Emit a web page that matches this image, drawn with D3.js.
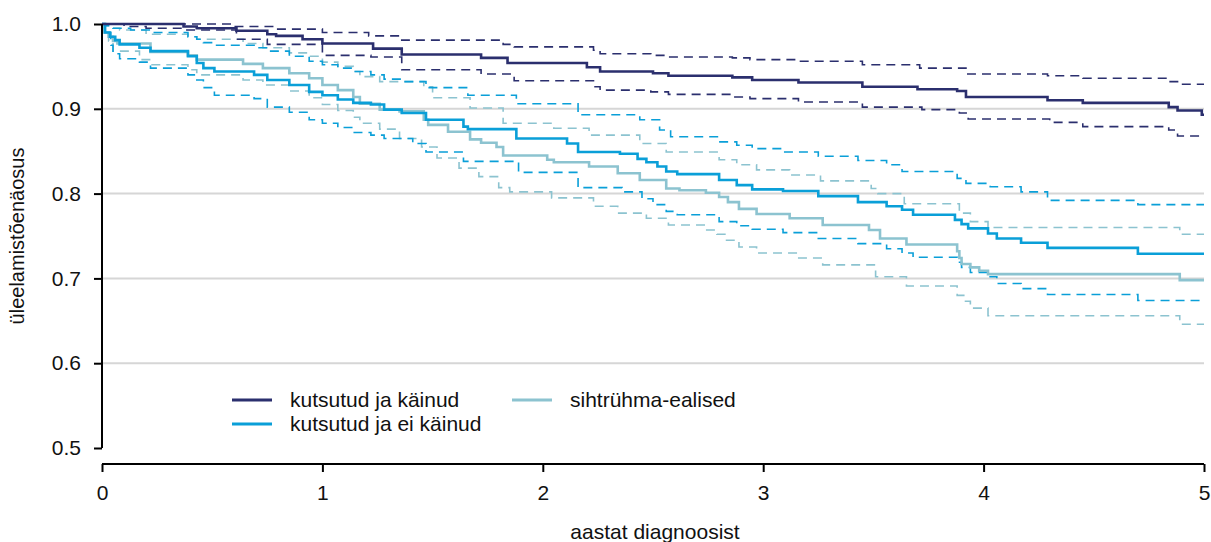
<!DOCTYPE html>
<html>
<head>
<meta charset="utf-8">
<script src="https://cdn.jsdelivr.net/npm/d3@7"></script>
<style>
  body { margin: 0; background: #fff; }
  svg text { font-family: "Liberation Sans", Arial, sans-serif; fill: #111; }
</style>
</head>
<body>
<svg id="chart" width="1211" height="542"></svg>
<script>
// kutsutud ja käinud
const kaiTime  = [0,0.37,0.43,0.61,0.75,0.79,0.91,1.00,1.23,1.36,1.72,1.84,2.20,2.26,2.50,2.57,2.86,2.95,3.16,3.45,3.70,3.88,3.92,4.29,4.45,4.84,4.88,4.99];
const kaiSurv  = [1,0.997,0.995,0.992,0.988,0.986,0.982,0.977,0.971,0.964,0.960,0.954,0.949,0.944,0.942,0.939,0.937,0.934,0.931,0.926,0.923,0.921,0.914,0.910,0.907,0.902,0.898,0.893];
const kaiUpTime = [0,0.59,0.79,1.00,1.21,1.36,1.82,1.87,2.23,2.26,2.49,2.57,2.86,2.94,3.16,3.45,3.71,3.92,4.29,4.45,4.84,4.88];
const kaiUp     = [1,0.997,0.994,0.990,0.986,0.981,0.976,0.973,0.969,0.965,0.963,0.961,0.960,0.958,0.956,0.952,0.948,0.941,0.939,0.936,0.932,0.929];
const kaiLoTime = [0,0.10,0.20,0.37,0.61,0.75,1.00,1.22,1.36,1.72,1.87,2.23,2.26,2.49,2.57,2.86,2.94,3.16,3.45,3.72,3.89,3.93,4.30,4.45,4.84,4.88];
const kaiLo     = [1,0.997,0.995,0.993,0.982,0.976,0.963,0.961,0.946,0.941,0.933,0.926,0.922,0.920,0.917,0.914,0.912,0.908,0.902,0.899,0.895,0.888,0.884,0.879,0.875,0.868];

// kutsutud ja ei käinud
const eiTime = [0,0.014,0.036,0.06,0.08,0.17,0.22,0.39,0.43,0.46,0.51,0.69,0.75,0.85,0.94,1.00,1.07,1.14,1.22,1.28,1.36,1.47,1.64,1.66,1.88,2.11,2.16,2.35,2.43,2.47,2.52,2.56,2.61,2.80,2.88,2.95,3.09,3.25,3.43,3.56,3.63,3.68,3.87,3.90,3.93,4.02,4.06,4.17,4.29,4.70];
const eiSurv = [1,0.99,0.985,0.981,0.976,0.972,0.968,0.962,0.954,0.948,0.944,0.940,0.934,0.928,0.920,0.916,0.911,0.907,0.905,0.899,0.895,0.887,0.879,0.876,0.865,0.859,0.849,0.847,0.841,0.837,0.832,0.826,0.823,0.816,0.810,0.805,0.803,0.797,0.790,0.785,0.781,0.775,0.769,0.764,0.759,0.753,0.747,0.742,0.736,0.729];
const eiUpTime = [0,0.02,0.05,0.13,0.22,0.39,0.43,0.46,0.51,0.69,0.75,0.85,0.94,1.00,1.07,1.14,1.22,1.28,1.36,1.47,1.66,1.88,2.16,2.44,2.53,2.58,2.80,2.88,2.95,3.09,3.25,3.43,3.56,3.63,3.88,3.92,4.03,4.17,4.29,4.70];
const eiUp     = [1,0.998,0.995,0.993,0.990,0.985,0.982,0.978,0.975,0.972,0.968,0.962,0.956,0.952,0.948,0.944,0.940,0.935,0.932,0.925,0.916,0.906,0.893,0.887,0.875,0.867,0.861,0.857,0.853,0.849,0.844,0.839,0.834,0.826,0.818,0.812,0.808,0.802,0.792,0.787];
const eiLoTime = [0,0.01,0.04,0.05,0.08,0.17,0.22,0.39,0.43,0.46,0.51,0.69,0.75,0.85,0.94,1.00,1.07,1.14,1.22,1.28,1.41,1.47,1.64,1.89,2.16,2.36,2.45,2.50,2.56,2.61,2.80,2.88,2.95,3.09,3.25,3.43,3.56,3.63,3.68,3.88,3.90,3.94,4.02,4.06,4.17,4.29,4.70];
const eiLo     = [1,0.99,0.975,0.965,0.959,0.955,0.948,0.940,0.934,0.925,0.916,0.912,0.902,0.896,0.887,0.883,0.878,0.872,0.869,0.865,0.859,0.849,0.838,0.825,0.807,0.802,0.794,0.787,0.779,0.775,0.767,0.762,0.758,0.754,0.747,0.741,0.735,0.730,0.725,0.719,0.713,0.707,0.702,0.694,0.688,0.681,0.674];

// sihtrühma-ealised
const sihtTime = [0,0.01,0.03,0.05,0.07,0.22,0.39,0.43,0.64,0.73,0.85,0.94,1.00,1.07,1.14,1.17,1.26,1.35,1.46,1.48,1.57,1.67,1.72,1.79,1.82,2.02,2.05,2.21,2.34,2.44,2.56,2.62,2.74,2.80,2.84,2.89,2.97,3.12,3.27,3.48,3.53,3.65,3.88,3.89,3.90,3.94,3.98,4.02,4.89];
const sihtSurv = [1,0.99,0.985,0.98,0.977,0.967,0.963,0.958,0.953,0.948,0.942,0.936,0.928,0.922,0.914,0.906,0.899,0.897,0.887,0.881,0.873,0.864,0.860,0.855,0.845,0.840,0.837,0.832,0.824,0.816,0.806,0.804,0.801,0.796,0.790,0.782,0.776,0.771,0.763,0.757,0.747,0.740,0.732,0.724,0.717,0.713,0.709,0.705,0.698];
const sihtUpTime = [0,0.01,0.04,0.08,0.20,0.39,0.43,0.64,0.73,0.85,0.94,1.00,1.07,1.14,1.17,1.26,1.46,1.50,1.67,1.82,2.05,2.21,2.44,2.56,2.80,2.88,2.97,3.12,3.26,3.49,3.52,3.64,3.89,3.94,4.02,4.89];
const sihtUp     = [1,0.998,0.995,0.993,0.988,0.985,0.982,0.977,0.972,0.966,0.962,0.955,0.950,0.944,0.938,0.932,0.926,0.913,0.901,0.883,0.877,0.869,0.859,0.849,0.840,0.834,0.828,0.822,0.815,0.806,0.800,0.788,0.777,0.767,0.760,0.752];
const sihtLoTime = [0,0.01,0.03,0.05,0.17,0.22,0.39,0.43,0.64,0.73,0.85,0.94,1.00,1.07,1.14,1.17,1.26,1.35,1.45,1.52,1.62,1.71,1.80,1.85,2.04,2.23,2.34,2.47,2.57,2.74,2.79,2.83,2.89,2.97,3.15,3.27,3.51,3.65,3.88,3.91,3.94,4.02,4.89];
const sihtLo     = [1,0.99,0.98,0.968,0.958,0.952,0.946,0.940,0.934,0.928,0.921,0.913,0.905,0.898,0.890,0.883,0.876,0.865,0.855,0.842,0.830,0.820,0.807,0.802,0.795,0.785,0.777,0.771,0.763,0.757,0.752,0.745,0.737,0.730,0.724,0.716,0.702,0.691,0.680,0.673,0.665,0.656,0.646];

const groups = ["kutsutud ja käinud", "kutsutud ja ei käinud", "sihtrühma-ealised"];
const colors = ["#2b2f6e", "#0a9fd8", "#8cc3d0"];
const xTicks = [0, 1, 2, 3, 4, 5];
const yTicks = [0.5, 0.6, 0.7, 0.8, 0.9, 1.0];
const gridTicks = [0.6, 0.7, 0.8, 0.9];

const svg = d3.select("#chart");

const x = d3.scaleLinear().domain([0, 5]).range([102, 1204]);
const y = d3.scaleLinear().domain([0.5, 1]).range([448, 24]);

// grid
svg.append("g")
    .selectAll("line")
    .data(gridTicks)
    .join("line")
    .attr("x1", x(0))
    .attr("x2", x(5))
    .attr("y1", d => y(d))
    .attr("y2", d => y(d))
    .attr("stroke", "#d6d6d6")
    .attr("stroke-width", 2);

const line = d3.line()
    .x(d => x(d[0]))
    .y(d => y(d[1]))
    .curve(d3.curveStepAfter);

// make step points and carry last value to t = 5
function pts(times, vals) {
    const p = times.map((t, i) => [t, vals[i]]);
    p.push([5, vals[vals.length - 1]]);
    return p;
}

const curves = [
    { p: pts(sihtUpTime, sihtUp), c: 2, dash: true },
    { p: pts(sihtLoTime, sihtLo), c: 2, dash: true },
    { p: pts(eiUpTime, eiUp), c: 1, dash: true },
    { p: pts(eiLoTime, eiLo), c: 1, dash: true },
    { p: pts(kaiUpTime, kaiUp), c: 0, dash: true },
    { p: pts(kaiLoTime, kaiLo), c: 0, dash: true },
    { p: pts(sihtTime, sihtSurv), c: 2, dash: false },
    { p: pts(eiTime, eiSurv), c: 1, dash: false },
    { p: pts(kaiTime, kaiSurv), c: 0, dash: false }
];

svg.append("g")
    .selectAll("path")
    .data(curves)
    .join("path")
    .attr("d", d => line(d.p))
    .attr("fill", "none")
    .attr("stroke", d => colors[d.c])
    .attr("stroke-width", d => d.dash ? 1.6 : 2.6)
    .attr("stroke-dasharray", d => d.dash ? "9,6" : null);

// axes
const yAxis = svg.append("g")
    .attr("transform", "translate(102,0)")
    .call(d3.axisLeft(y).tickValues(yTicks).tickFormat(d3.format(".1f")).tickSize(8).tickPadding(13));
const xAxis = svg.append("g")
    .attr("transform", "translate(0,464)")
    .call(d3.axisBottom(x).tickValues(xTicks).tickFormat(d3.format("d")).tickSize(8).tickPadding(13));

[xAxis, yAxis].forEach(a => {
    a.select(".domain").attr("stroke", "#000").attr("stroke-width", 2);
    a.selectAll(".tick line").attr("stroke", "#000").attr("stroke-width", 2);
    a.selectAll(".tick text").style("font-size", "21px").attr("fill", "#111");
});
yAxis.select(".domain").attr("d", `M-0,${y(0.5)}V${y(1)}`);
xAxis.select(".domain").attr("d", `M${x(0)},0H${x(5)}`);

// axis titles
svg.append("text")
    .attr("x", 655)
    .attr("y", 539)
    .attr("text-anchor", "middle")
    .style("font-size", "21px")
    .text("aastat diagnoosist");

svg.append("text")
    .attr("transform", "translate(24,236) rotate(-90)")
    .attr("text-anchor", "middle")
    .style("font-size", "20px")
    .text("üleelamistõenäosus");

// legend
const legendPos = [[232, 400], [232, 424], [512, 400]];
const legend = svg.append("g")
    .selectAll("g")
    .data(groups)
    .join("g")
    .attr("transform", (d, i) => `translate(${legendPos[i][0]},${legendPos[i][1]})`);
legend.append("line")
    .attr("x1", 0).attr("x2", 40)
    .attr("stroke", (d, i) => colors[i])
    .attr("stroke-width", 3);
legend.append("text")
    .attr("x", 58)
    .attr("dy", "0.35em")
    .style("font-size", "21px")
    .text(d => d);
</script>
</body>
</html>
